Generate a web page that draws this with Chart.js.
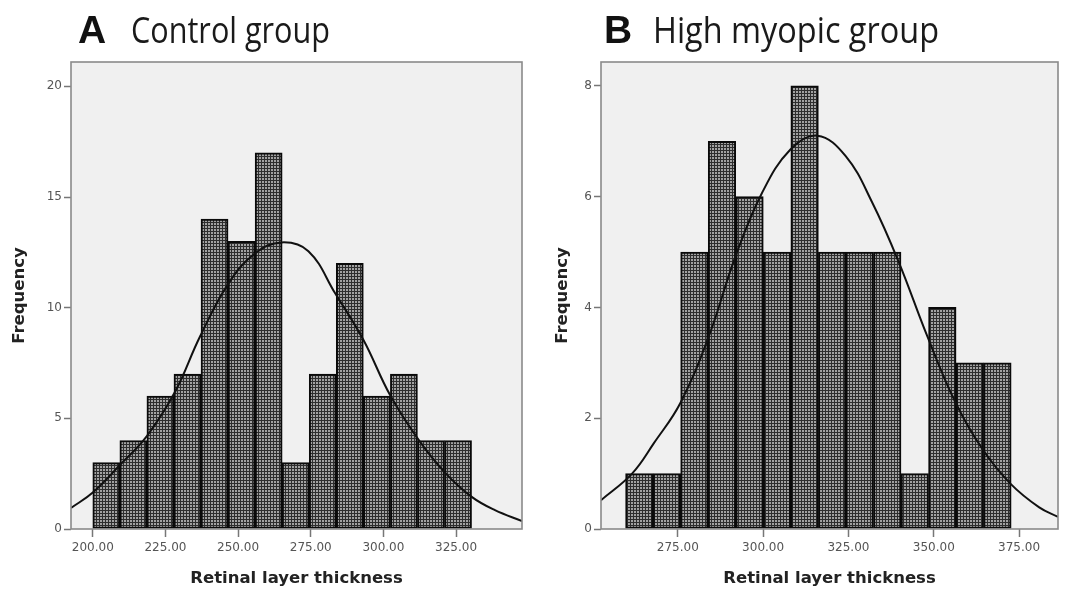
<!DOCTYPE html>
<html>
<head>
<meta charset="utf-8">
<script src="https://cdn.jsdelivr.net/npm/chart.js@4.4.1/dist/chart.umd.min.js"></script>
<style>
html,body{margin:0;padding:0;background:#fff;}
#wrap{position:relative;width:1068px;height:591px;overflow:hidden;background:#fff;}
canvas.cv{position:absolute;top:0;}
.lab{position:absolute;top:10px;font-family:"Liberation Sans",Arial,sans-serif;font-weight:bold;font-size:39px;line-height:39px;color:#111;white-space:nowrap;}
.ttl{position:absolute;top:10px;font-family:"Open Sans",sans-serif;font-size:37px;line-height:37px;color:#1a1a1a;white-space:nowrap;transform-origin:0 0;}
</style>
</head>
<body>
<div id="wrap">
  <canvas id="cA" class="cv" width="534" height="591" style="left:0;width:534px;height:591px"></canvas>
  <canvas id="cB" class="cv" width="534" height="591" style="left:534px;width:534px;height:591px"></canvas>
  <div class="lab" style="left:78px">A</div>
  <div class="ttl" id="tA" data-w="199" style="left:131px">Control group</div>
  <div class="lab" style="left:604px">B</div>
  <div class="ttl" id="tB" data-w="286" style="left:653px">High myopic group</div>
</div>
<script>
// ---------------- data: panel A (control group) ----------------
const binEdgesA = [200.00, 209.31, 218.62, 227.93, 237.24, 246.55, 255.86, 265.17, 274.48, 283.79, 293.10, 302.41, 311.72, 321.03, 330.34];
const countsA   = [3, 4, 6, 7, 14, 13, 17, 3, 7, 12, 6, 7, 4, 4];
const curveXA   = [192.5, 200.0, 209.4, 218.6, 228.3, 236.9, 246.7, 255.8, 265.0, 274.2, 283.4, 293.1, 302.3, 312.0, 321.2, 330.4, 338.4, 347.7];
const curveYA   = [0.95, 1.65, 2.9, 4.2, 6.2, 8.7, 11.1, 12.45, 12.95, 12.55, 10.65, 8.55, 6.05, 4.05, 2.55, 1.45, 0.85, 0.36];
const xTicksA   = [200, 225, 250, 275, 300, 325];
const yTicksA   = [0, 5, 10, 15, 20];
const xRangeA   = [192.5, 347.7];
const yMaxA     = 21.1;

// ---------------- data: panel B (high myopic group) ----------------
const binEdgesB = [259.70, 267.77, 275.84, 283.91, 291.98, 300.05, 308.12, 316.19, 324.26, 332.33, 340.40, 348.47, 356.54, 364.61, 372.68];
const countsB   = [1, 1, 5, 7, 6, 5, 8, 5, 5, 5, 1, 4, 3, 3];
const curveXB   = [252.5, 261.6, 268.0, 275.8, 284.1, 291.9, 299.7, 308.0, 315.9, 324.2, 332.0, 339.8, 348.1, 356.4, 364.3, 372.6, 380.9, 386.4];
const curveYB   = [0.52, 1.0, 1.55, 2.28, 3.48, 4.92, 6.07, 6.85, 7.1, 6.73, 5.89, 4.81, 3.48, 2.28, 1.44, 0.81, 0.39, 0.22];
const xTicksB   = [275, 300, 325, 350, 375];
const yTicksB   = [0, 2, 4, 6, 8];
const xRangeB   = [252.5, 386.4];
const yMaxB     = 8.43;

const xTitle = 'Retinal layer thickness';
const yTitle = 'Frequency';

// ---------------- helpers ----------------
function makePattern(){
  const c = document.createElement('canvas');
  c.width = 3; c.height = 3;
  const g = c.getContext('2d');
  g.fillStyle = '#2e2e2e'; g.fillRect(0,0,3,3);
  g.fillStyle = '#a2a2a2'; g.fillRect(1,1,2,2);
  return g.createPattern(c,'repeat');
}
const pattern = makePattern();

const framePlugin = {
  id: 'frame',
  beforeDraw(chart){
    const {ctx, chartArea:a} = chart;
    ctx.save();
    ctx.fillStyle = '#f0f0f0';
    ctx.fillRect(a.left, a.top, a.right-a.left, a.bottom-a.top);
    ctx.restore();
  },
  afterDraw(chart){
    const {ctx, chartArea:a} = chart;
    ctx.save();
    ctx.strokeStyle = '#8a8a8a';
    ctx.lineWidth = 1.6;
    ctx.strokeRect(a.left, a.top, a.right-a.left, a.bottom-a.top);
    ctx.restore();
  }
};

function build(canvasId, edges, counts, cx, cy, xTicks, yTicks, xRange, yMax, yAxisW, padRight, yTitlePad){
  const barData = counts.map((v,i) => ({x:(edges[i]+edges[i+1])/2, y:v}));
  const lineData = cx.map((v,i) => ({x:v, y:cy[i]}));
  return new Chart(document.getElementById(canvasId), {
    type: 'bar',
    data: {
      datasets: [
        {
          type: 'line', data: lineData, order: 0,
          borderColor: '#111', borderWidth: 2, pointRadius: 0, fill: false,
          tension: 0.4
        },
        {
          type: 'bar', data: barData, order: 1,
          backgroundColor: pattern, borderColor: '#0a0a0a', borderWidth: 2,
          borderSkipped: false, barPercentage: 1, categoryPercentage: 1
        }
      ]
    },
    options: {
      responsive: false, animation: false, devicePixelRatio: 1,
      layout: {padding: {top: 62, right: padRight, left: 0, bottom: 0}},
      plugins: {legend: {display: false}, tooltip: {enabled: false}},
      scales: {
        x: {
          type: 'linear', min: xRange[0], max: xRange[1], offset: false,
          afterBuildTicks: ax => { ax.ticks = xTicks.map(v => ({value: v})); },
          afterFit: ax => { ax.height = 62; },
          grid: {display: true, drawOnChartArea: false, drawTicks: true, tickLength: 8, tickWidth: 1.5, tickColor: '#777', offset: false},
          border: {display: false},
          ticks: {font: {family: 'DejaVu Sans', size: 12}, color: '#555', padding: 4, maxRotation: 0, autoSkip: false,
                  callback: v => Number(v).toFixed(2)},
          title: {display: true, text: xTitle, color: '#222',
                  font: {family: 'DejaVu Sans', weight: 'bold', size: 16.5, lineHeight: 1.2},
                  padding: {top: 0, bottom: 2}}
        },
        y: {
          type: 'linear', min: 0, max: yMax,
          afterBuildTicks: ax => { ax.ticks = yTicks.map(v => ({value: v})); },
          afterFit: ax => { ax.width = yAxisW; },
          grid: {display: true, drawOnChartArea: false, drawTicks: true, tickLength: 7, tickWidth: 1.5, tickColor: '#777'},
          border: {display: false},
          ticks: {font: {family: 'DejaVu Sans', size: 12}, color: '#555', padding: 2},
          title: {display: true, text: yTitle, color: '#222',
                  font: {family: 'DejaVu Sans', weight: 'bold', size: 16.5, lineHeight: 1.2},
                  padding: {top: yTitlePad, bottom: 0}}
        }
      }
    },
    plugins: [framePlugin]
  });
}

build('cA', binEdgesA, countsA, curveXA, curveYA, xTicksA, yTicksA, xRangeA, yMaxA, 71, 12, 10);
build('cB', binEdgesB, countsB, curveXB, curveYB, xTicksB, yTicksB, xRangeB, yMaxB, 67, 10, 19);

function fitTitles(){
  document.querySelectorAll('.ttl').forEach(el => {
    el.style.transform = 'none';
    const w = el.getBoundingClientRect().width;
    const target = parseFloat(el.dataset.w);
    if (w > 0) el.style.transform = 'scaleX(' + (target / w) + ')';
  });
}
fitTitles();
if (document.fonts && document.fonts.ready) document.fonts.ready.then(fitTitles);
</script>
</body>
</html>
